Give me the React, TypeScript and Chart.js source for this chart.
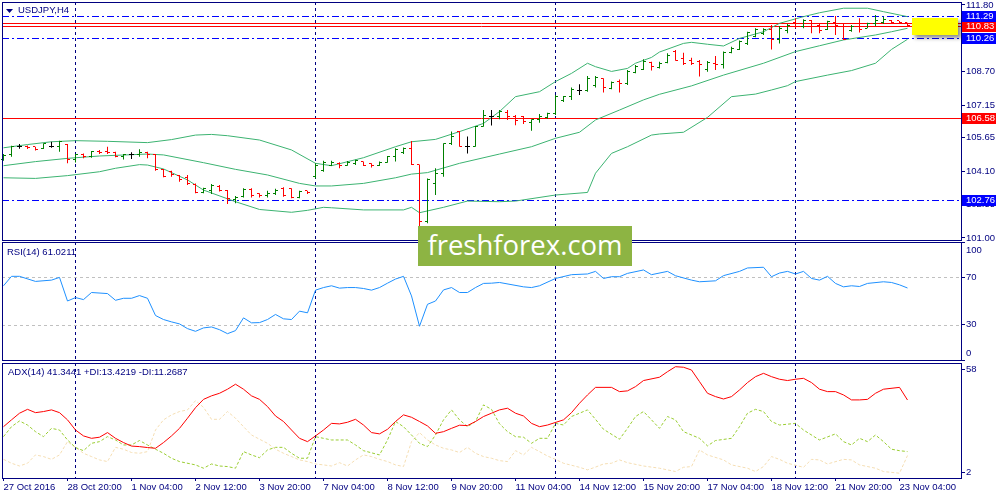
import React, { useEffect, useRef } from "react";
import { Chart, registerables } from "chart.js";

Chart.register(...registerables);

// ---------------- data ----------------
const opens = [
  104.64, 104.85, 105.26, 105.26, 105.23, 105.16, 105.23, 105.23, 105.34, 104.64,
  104.85, 104.77, 105.03, 105.0, 104.97, 104.77, 104.85, 104.85, 104.95, 104.88,
  104.18, 104.07, 103.89, 103.81, 103.5, 103.1, 103.22, 103.38, 103.19, 102.76,
  102.91, 103.25, 103.04, 102.95, 103.07, 103.3, 103.3, 102.88, 103.18, 103.84,
  104.15, 104.38, 104.46, 104.38, 104.46, 104.54, 104.43, 104.35, 104.52, 104.77,
  104.95, 105.16, 104.41, 101.76, 103.53, 104.0, 105.36, 105.93, 105.26, 105.26,
  106.19, 106.65, 106.62, 106.81, 106.62, 106.62, 106.36, 106.47, 106.59, 106.78,
  107.37, 107.55, 107.83, 107.83, 108.05, 108.4, 107.94, 108.25, 108.17, 108.66,
  108.82, 109.14, 108.89, 109.13, 109.64, 109.33, 109.25, 109.17, 108.79, 109.07,
  109.02, 109.59, 109.74, 110.02, 110.36, 110.49, 110.67, 110.21, 110.64, 110.98,
  110.8, 111.07, 110.87, 110.67, 110.98, 110.8, 110.61, 110.92, 110.73, 110.92,
  110.98, 111.1, 111.06, 110.98,
];
const highs = [
  104.89, 105.28, 105.36, 105.29, 105.23, 105.39, 105.46, 105.51, 105.36, 104.89,
  104.92, 105.03, 105.08, 105.23, 105.0, 104.89, 104.97, 105.11, 105.0, 104.89,
  104.2, 104.12, 103.92, 103.92, 103.53, 103.33, 103.5, 103.45, 103.22, 102.95,
  103.3, 103.3, 103.07, 103.19, 103.28, 103.35, 103.3, 103.19, 103.19, 104.46,
  104.58, 104.58, 104.51, 104.57, 104.62, 104.54, 104.46, 104.55, 104.8, 105.16,
  105.19, 105.49, 104.41, 103.76, 104.23, 105.39, 105.93, 105.96, 105.7, 106.19,
  106.93, 106.93, 106.93, 106.93, 106.7, 106.65, 106.5, 106.75, 106.81, 107.63,
  107.58, 107.97, 108.12, 108.51, 108.51, 108.4, 108.25, 108.35, 108.79, 109.02,
  109.28, 109.17, 109.17, 109.56, 109.71, 109.59, 109.36, 109.25, 109.2, 109.44,
  109.64, 109.87, 110.15, 110.56, 110.72, 110.72, 110.87, 110.83, 110.92, 111.18,
  111.14, 111.1, 110.92, 111.07, 111.29, 110.95, 110.87, 111.18, 110.98, 111.34,
  111.26, 111.1, 111.06, 110.98,
];
const lows = [
  104.58, 104.77, 105.14, 105.12, 105.05, 105.12, 105.18, 105.0, 104.46, 104.5,
  104.69, 104.72, 104.89, 104.89, 104.74, 104.64, 104.66, 104.77, 104.69, 104.12,
  103.81, 103.84, 103.61, 103.46, 103.07, 103.07, 103.04, 103.15, 102.57, 102.61,
  102.88, 102.88, 102.88, 102.88, 102.99, 102.91, 102.84, 102.84, 103.04, 103.76,
  104.07, 104.34, 104.23, 104.35, 104.38, 104.34, 104.27, 104.34, 104.49, 104.54,
  104.89, 104.38, 101.2, 101.68, 102.99, 103.84, 105.31, 105.23, 104.92, 105.23,
  106.16, 106.21, 106.5, 106.47, 106.22, 106.28, 105.97, 106.34, 106.53, 106.7,
  107.3, 107.4, 107.63, 107.78, 107.98, 107.74, 107.89, 107.74, 108.09, 108.63,
  108.79, 108.76, 108.86, 109.1, 109.22, 109.02, 109.02, 108.48, 108.71, 108.79,
  108.86, 109.56, 109.71, 109.95, 110.3, 110.41, 109.74, 110.02, 110.49, 110.72,
  110.72, 110.49, 110.49, 110.64, 110.41, 110.18, 110.56, 110.53, 110.72, 110.83,
  110.92, 110.92, 110.92, 110.83,
];
const closes = [
  104.8, 105.23, 105.26, 105.2, 105.11, 105.36, 105.23, 105.46, 104.62, 104.85,
  104.77, 105.0, 104.97, 104.95, 104.77, 104.85, 104.85, 104.95, 104.89, 104.18,
  103.84, 103.92, 103.69, 103.53, 103.1, 103.28, 103.44, 103.22, 102.84, 102.88,
  103.25, 102.95, 102.95, 103.07, 103.22, 102.95, 102.88, 103.15, 103.1, 104.38,
  104.49, 104.49, 104.38, 104.51, 104.57, 104.38, 104.34, 104.52, 104.77, 105.08,
  105.16, 104.41, 101.76, 103.73, 104.0, 105.36, 105.7, 105.26, 105.26, 106.16,
  106.7, 106.65, 106.86, 106.62, 106.44, 106.39, 106.47, 106.65, 106.75, 107.55,
  107.55, 107.89, 107.83, 108.4, 108.45, 107.98, 108.2, 108.17, 108.71, 108.94,
  109.17, 108.94, 109.1, 109.48, 109.25, 109.1, 109.1, 109.02, 109.14, 109.02,
  109.59, 109.79, 110.1, 110.52, 110.67, 110.67, 110.21, 110.72, 110.87, 110.92,
  111.07, 110.8, 110.61, 111.03, 110.83, 110.21, 110.8, 110.67, 110.92, 111.1,
  111.14, 111.01, 110.98, 110.83,
];

const bbUpper: [number, number][] = [
  [0, 105.18], [3, 105.33], [6, 105.46], [9, 105.51], [13, 105.48], [18, 105.42], [21, 105.56],
  [24, 105.77], [26, 105.8], [28, 105.74], [32, 105.54], [36, 105.08], [39, 104.46], [41, 104.35],
  [45, 104.72], [49, 105.23], [51, 105.46], [54, 105.57], [57, 105.93], [60, 106.31], [62, 106.86],
  [64, 107.55], [67, 107.78], [69, 108.25], [71, 108.63], [73, 109.1], [74, 108.94], [76, 108.72],
  [78, 108.86], [79, 109.1], [81, 109.37], [82, 109.62], [85, 110.02], [86, 110.07], [88, 109.98],
  [90, 109.9], [92, 110.25], [95, 110.56], [97, 110.95], [100, 111.26], [102, 111.44], [105, 111.65],
  [108, 111.65], [110, 111.49], [113, 111.26],
];
const bbMiddle: [number, number][] = [
  [0, 104.35], [4, 104.54], [8, 104.69], [12, 104.8], [18, 104.89], [20, 104.85], [25, 104.49],
  [29, 104.18], [33, 103.92], [37, 103.53], [39, 103.41], [41, 103.41], [45, 103.53], [49, 103.79],
  [51, 103.96], [53, 104.03], [57, 104.46], [62, 104.89], [66, 105.23], [69, 105.62], [72, 105.9],
  [74, 106.47], [77, 106.93], [80, 107.4], [82, 107.66], [86, 108.05], [90, 108.55], [95, 109.1],
  [99, 109.64], [102, 109.91], [105, 110.18], [109, 110.41], [111, 110.56], [113, 110.72],
];
const bbLower: [number, number][] = [
  [0, 103.79], [4, 103.76], [8, 103.89], [12, 104.07], [14, 104.23], [17, 104.4], [18, 104.38],
  [20, 104.2], [23, 103.69], [25, 103.22], [29, 102.68], [32, 102.32], [36, 102.19], [38, 102.28],
  [40, 102.42], [41, 102.4], [45, 102.3], [50, 102.3], [51, 102.42], [52, 102.17], [55, 102.42],
  [58, 102.71], [62, 102.68], [64, 102.71], [69, 102.99], [73, 103.11], [74, 104.0], [76, 104.92],
  [78, 105.23], [81, 105.77], [82, 105.82], [85, 105.9], [88, 106.59], [91, 107.55], [94, 107.67],
  [96, 107.86], [98, 108.06], [99, 108.25], [103, 108.55], [106, 108.76], [109, 109.1], [111, 109.74],
  [113, 110.21],
];

const rsiPoints: [number, number][] = [
  [0, 62.9], [1, 70.9], [2, 70.9], [4, 66.6], [6, 67.7], [7, 70.0], [8, 50.0], [9, 52.9], [10, 51.2],
  [11, 57.2], [13, 56.3], [14, 50.6], [15, 52.3], [16, 52.3], [17, 54.6], [18, 52.3], [19, 37.7],
  [20, 34.3], [21, 32.3], [22, 30.6], [23, 26.6], [24, 24.3], [25, 27.2], [26, 28.0], [27, 25.7],
  [28, 22.3], [29, 24.9], [30, 35.7], [31, 31.5], [32, 31.7], [33, 34.3], [34, 38.6], [35, 34.9],
  [36, 34.3], [37, 41.4], [38, 40.0], [39, 59.2], [40, 61.4], [41, 62.9], [42, 60.9], [43, 61.4],
  [44, 61.4], [45, 60.6], [46, 59.2], [47, 61.4], [48, 65.1], [49, 68.6], [50, 70.9], [51, 54.3],
  [52, 28.6], [53, 47.2], [54, 50.0], [55, 59.4], [56, 61.4], [57, 57.2], [58, 57.2], [59, 61.4],
  [60, 64.9], [61, 65.1], [62, 65.7], [65, 62.0], [66, 61.4], [67, 62.9], [69, 69.1], [71, 72.3],
  [73, 72.9], [74, 75.1], [75, 69.1], [76, 70.6], [77, 70.6], [78, 73.4], [80, 76.3], [81, 72.3],
  [83, 75.1], [84, 71.4], [86, 67.7], [87, 66.3], [89, 67.1], [90, 71.5], [92, 75.1], [93, 78.0],
  [95, 78.6], [96, 70.6], [97, 73.7], [98, 75.1], [99, 72.9], [100, 75.1], [101, 69.1], [102, 67.7],
  [103, 70.9], [104, 64.9], [105, 62.0], [106, 62.9], [107, 62.3], [108, 64.9], [110, 66.3],
  [111, 65.7], [112, 63.7], [113, 61.02],
];

const adxPoints: [number, number][] = [
  [0, 26.9], [1, 30.6], [2, 34.2], [3, 36.3], [4, 34.5], [5, 35.1], [6, 36.0], [7, 34.5], [8, 30.6],
  [9, 25.1], [10, 21.9], [11, 20.6], [12, 21.2], [13, 23.7], [14, 20.6], [15, 18.3], [16, 16.4],
  [17, 16.1], [18, 15.6], [19, 15.2], [20, 18.3], [21, 21.9], [22, 26.0], [23, 31.5], [24, 37.2],
  [25, 41.7], [26, 43.6], [27, 45.0], [28, 47.2], [29, 49.9], [30, 47.2], [31, 43.6], [32, 41.7],
  [33, 37.8], [34, 32.7], [35, 29.7], [36, 25.1], [37, 20.6], [38, 18.8], [39, 21.9], [40, 25.1],
  [41, 28.7], [42, 28.4], [43, 29.3], [44, 30.9], [45, 27.8], [46, 23.7], [47, 23.0], [48, 25.5],
  [49, 29.7], [50, 33.3], [51, 32.0], [52, 29.7], [53, 27.3], [54, 23.3], [55, 24.2], [56, 26.0],
  [57, 27.7], [58, 27.5], [59, 29.7], [60, 32.4], [61, 34.2], [62, 36.0], [63, 36.9], [64, 34.2],
  [65, 32.7], [66, 28.7], [67, 26.9], [68, 27.8], [70, 30.6], [71, 34.5], [72, 39.6], [73, 44.1],
  [74, 48.2], [76, 48.2], [77, 45.9], [78, 46.3], [79, 48.6], [80, 51.9], [82, 53.7], [83, 56.7],
  [84, 59.4], [85, 59.1], [86, 57.6], [87, 51.3], [88, 45.0], [89, 43.2], [90, 41.9], [91, 43.2],
  [92, 46.8], [93, 50.8], [94, 54.0], [95, 55.8], [96, 54.0], [97, 52.6], [98, 51.9], [99, 52.6],
  [100, 53.1], [101, 50.8], [102, 47.2], [103, 45.9], [104, 45.9], [105, 44.1], [106, 41.4],
  [107, 41.4], [108, 41.7], [109, 45.0], [110, 47.2], [112, 48.2], [113, 41.34],
];
const plusDiPoints: [number, number][] = [
  [0, 21.5], [1, 26.9], [2, 30.0], [3, 27.8], [4, 24.2], [5, 21.5], [6, 26.0], [7, 25.1], [8, 19.7],
  [9, 15.6], [10, 13.9], [11, 17.9], [12, 18.8], [13, 21.5], [14, 19.7], [15, 17.0], [16, 17.0],
  [17, 19.4], [18, 17.0], [19, 14.7], [20, 12.5], [21, 9.8], [22, 8.0], [24, 6.2], [25, 4.4],
  [26, 6.7], [27, 5.6], [28, 5.3], [29, 4.4], [30, 13.4], [31, 11.6], [32, 10.1], [33, 14.3],
  [34, 15.7], [35, 15.7], [36, 12.5], [37, 9.8], [38, 9.8], [39, 21.5], [40, 20.6], [41, 19.7],
  [43, 19.7], [44, 17.0], [45, 13.9], [47, 11.6], [48, 19.7], [49, 29.7], [50, 26.9], [51, 22.4],
  [52, 17.9], [53, 16.1], [54, 22.4], [55, 30.6], [56, 36.0], [57, 30.6], [58, 26.9], [59, 29.7],
  [60, 38.7], [61, 36.3], [62, 28.5], [63, 24.2], [64, 21.5], [65, 21.2], [66, 17.9], [67, 20.6],
  [68, 20.6], [69, 28.7], [70, 27.8], [71, 32.4], [72, 34.2], [73, 36.0], [74, 30.9], [75, 25.5],
  [77, 20.1], [78, 26.0], [79, 32.4], [80, 35.1], [81, 30.6], [82, 26.0], [83, 32.4], [84, 30.6],
  [85, 24.2], [87, 20.6], [88, 16.5], [89, 19.4], [91, 20.6], [92, 26.9], [93, 34.2], [94, 36.3],
  [95, 35.1], [96, 29.7], [97, 27.8], [99, 28.7], [100, 25.1], [102, 19.7], [104, 23.0], [105, 18.8],
  [106, 17.0], [107, 20.6], [108, 18.8], [109, 22.4], [110, 18.8], [111, 14.7], [112, 13.9],
  [113, 13.42],
];
const minusDiPoints: [number, number][] = [
  [0, 9.2], [1, 7.1], [2, 5.6], [3, 7.1], [4, 11.6], [5, 10.7], [6, 9.2], [7, 11.6], [8, 18.8],
  [9, 15.7], [10, 12.5], [11, 10.7], [12, 8.9], [13, 8.0], [14, 15.7], [15, 14.7], [16, 12.9],
  [17, 12.5], [18, 13.4], [19, 25.1], [20, 30.6], [21, 33.3], [22, 35.1], [23, 36.0], [24, 41.0],
  [25, 37.4], [26, 30.9], [27, 30.9], [28, 35.1], [29, 31.5], [30, 26.9], [31, 22.4], [32, 20.1],
  [33, 17.9], [34, 14.7], [35, 12.5], [36, 10.7], [37, 8.9], [38, 8.0], [39, 6.7], [40, 6.2],
  [41, 5.6], [42, 7.4], [43, 5.6], [44, 8.9], [45, 11.6], [46, 10.7], [47, 9.2], [48, 8.0],
  [49, 6.2], [50, 5.3], [51, 18.8], [52, 23.7], [53, 19.7], [54, 17.0], [55, 15.2], [56, 14.3],
  [57, 12.9], [58, 15.7], [59, 12.5], [60, 10.7], [61, 9.8], [62, 8.5], [63, 8.0], [64, 13.9],
  [65, 11.6], [66, 15.7], [67, 13.4], [68, 11.0], [69, 9.2], [70, 7.1], [72, 4.9], [73, 3.5],
  [74, 5.0], [75, 6.7], [76, 7.1], [77, 8.9], [78, 7.4], [80, 5.6], [82, 4.4], [84, 2.6], [85, 4.9],
  [86, 5.3], [87, 14.3], [88, 11.6], [90, 8.9], [91, 6.2], [93, 4.4], [94, 2.6], [95, 5.3],
  [96, 10.7], [97, 9.2], [98, 7.1], [100, 4.9], [101, 9.2], [102, 8.9], [103, 6.7], [105, 9.2],
  [106, 8.9], [107, 6.2], [109, 4.4], [110, 2.6], [112, 1.7], [113, 11.27],
];

const xTickIdx = [0, 8, 16, 24, 32, 40, 48, 56, 64, 72, 80, 88, 96, 104, 112];
const xTickLabels = [
  "27 Oct 2016", "28 Oct 20:00", "1 Nov 04:00", "2 Nov 12:00", "3 Nov 20:00", "7 Nov 04:00",
  "8 Nov 12:00", "9 Nov 20:00", "11 Nov 04:00", "14 Nov 12:00", "15 Nov 20:00", "17 Nov 04:00",
  "18 Nov 12:00", "21 Nov 20:00", "23 Nov 04:00",
];
const weekStarts = [9, 39, 69, 99];
const priceTicks = [111.8, 110.25, 108.7, 107.15, 105.65, 104.1, 102.55, 101.0];
const blueLevels = [111.29, 110.26, 102.76];
const redLevels = [110.95, 110.83, 106.58];
const rsiLevels = [70, 30];
const rsiTicks = [100, 70, 30, 0];
const adxTicks = [58, 2];
const yellowZone = { fromIdx: 113.5, toIdx: 119.3, top: 111.18, bottom: 110.41 };

const mainTitle = "USDJPY,H4";
const rsiTitle = "RSI(14) 61.0211";
const adxTitle = "ADX(14) 41.3441 +DI:13.4219 -DI:11.2687";

// ---------------- layout / style ----------------
const X_MIN = -0.1875;
const X_MAX = 119.6875;
const PRICE_MIN = 100.905;
const PRICE_MAX = 111.939;
const NAVY = "#000080";
const BLUE = "#0000ff";
const RED = "#ff0000";
const FONT = "'Liberation Sans', Arial, sans-serif";
const FS = 9.5;

const barColor = (i: number) =>
  closes[i] > opens[i] ? "#008000" : closes[i] < opens[i] ? RED : "#000000";

const toXY = (pts: [number, number][]) => pts.map(([x, y]) => ({ x, y }));

function drawFrame(chart: any) {
  const { ctx, chartArea: a } = chart;
  ctx.save();
  ctx.strokeStyle = NAVY;
  ctx.lineWidth = 1;
  ctx.setLineDash([]);
  ctx.beginPath();
  ctx.moveTo(a.left + 0.5, a.top);
  ctx.lineTo(a.left + 0.5, a.bottom + 1);
  ctx.moveTo(a.right + 0.5, a.top);
  ctx.lineTo(a.right + 0.5, a.bottom + 1);
  ctx.moveTo(a.left, a.top + 0.5);
  ctx.lineTo(a.right + 1, a.top + 0.5);
  ctx.moveTo(a.left, a.bottom + 0.5);
  ctx.lineTo(a.right + 1, a.bottom + 0.5);
  ctx.stroke();
  ctx.restore();
}

function drawWeekLines(chart: any) {
  const { ctx, chartArea: a, scales } = chart;
  ctx.save();
  ctx.strokeStyle = NAVY;
  ctx.lineWidth = 1;
  ctx.setLineDash([3, 3]);
  ctx.beginPath();
  weekStarts.forEach((w) => {
    const x = Math.floor(scales.x.getPixelForValue(w)) + 0.5;
    ctx.moveTo(x, a.top);
    ctx.lineTo(x, a.bottom + 1);
  });
  ctx.stroke();
  ctx.restore();
}

function drawTitle(chart: any, text: string, x: number, y: number, triangle = false) {
  const { ctx } = chart;
  ctx.save();
  ctx.fillStyle = NAVY;
  if (triangle) {
    ctx.beginPath();
    ctx.moveTo(6, 9);
    ctx.lineTo(13, 9);
    ctx.lineTo(9.5, 13);
    ctx.closePath();
    ctx.fill();
  }
  ctx.font = `${FS}px ${FONT}`;
  ctx.textBaseline = "middle";
  ctx.textAlign = "left";
  ctx.fillText(text, x, y);
  ctx.restore();
}

const mainPlugin = {
  id: "mainDecor",
  beforeDatasetsDraw(chart: any) {
    const { ctx, chartArea: a, scales } = chart;
    drawWeekLines(chart);
    ctx.save();
    ctx.lineWidth = 1;
    ctx.strokeStyle = BLUE;
    ctx.setLineDash([7, 3, 2, 3]);
    blueLevels.forEach((p) => {
      const y = Math.round(scales.y.getPixelForValue(p)) + 0.5;
      ctx.beginPath();
      ctx.moveTo(a.left, y);
      ctx.lineTo(a.right, y);
      ctx.stroke();
    });
    ctx.strokeStyle = RED;
    ctx.setLineDash([]);
    redLevels.forEach((p) => {
      const y = Math.round(scales.y.getPixelForValue(p)) + 0.5;
      ctx.beginPath();
      ctx.moveTo(a.left, y);
      ctx.lineTo(a.right, y);
      ctx.stroke();
    });
    const x0 = scales.x.getPixelForValue(yellowZone.fromIdx);
    const x1 = scales.x.getPixelForValue(yellowZone.toIdx);
    const y0 = scales.y.getPixelForValue(yellowZone.top);
    const y1 = scales.y.getPixelForValue(yellowZone.bottom);
    ctx.shadowColor = "rgba(0,0,0,0.45)";
    ctx.shadowBlur = 4;
    ctx.shadowOffsetX = 3;
    ctx.shadowOffsetY = 3;
    ctx.fillStyle = "#ffff00";
    ctx.fillRect(Math.round(x0), Math.round(y0), Math.round(x1 - x0), Math.round(y1 - y0));
    ctx.restore();
  },
  afterDatasetsDraw(chart: any) {
    const { ctx, scales } = chart;
    ctx.save();
    for (let i = 0; i < closes.length; i++) {
      ctx.fillStyle = barColor(i);
      const px = Math.floor(scales.x.getPixelForValue(i));
      ctx.fillRect(px - 2, Math.floor(scales.y.getPixelForValue(opens[i])), 2, 1);
      ctx.fillRect(px + 1, Math.floor(scales.y.getPixelForValue(closes[i])), 2, 1);
    }
    ctx.restore();
  },
  afterDraw(chart: any) {
    const { ctx, chartArea: a, scales } = chart;
    drawFrame(chart);
    drawTitle(chart, mainTitle, 18, 10.5, true);
    const box = (p: number, color: string) => {
      const y = Math.round(scales.y.getPixelForValue(p));
      ctx.fillStyle = color;
      ctx.fillRect(a.right + 1, y - 5, 34, 11);
      ctx.fillStyle = "#ffffff";
      ctx.font = `${FS}px ${FONT}`;
      ctx.textBaseline = "middle";
      ctx.textAlign = "left";
      ctx.fillText(p.toFixed(2), a.right + 5, y + 0.5);
    };
    ctx.save();
    redLevels.forEach((p) => box(p, RED));
    blueLevels.forEach((p) => box(p, BLUE));
    ctx.restore();
  },
};

const rsiPlugin = {
  id: "rsiDecor",
  beforeDatasetsDraw(chart: any) {
    const { ctx, chartArea: a, scales } = chart;
    drawWeekLines(chart);
    ctx.save();
    ctx.strokeStyle = "#c0c0c0";
    ctx.lineWidth = 1;
    ctx.setLineDash([3, 3]);
    rsiLevels.forEach((v) => {
      const y = Math.round(scales.y.getPixelForValue(v)) + 0.5;
      ctx.beginPath();
      ctx.moveTo(a.left, y);
      ctx.lineTo(a.right, y);
      ctx.stroke();
    });
    ctx.restore();
  },
  afterDraw(chart: any) {
    const { ctx, chartArea: a, scales } = chart;
    drawFrame(chart);
    drawTitle(chart, rsiTitle, 7, 10);
    ctx.save();
    ctx.fillStyle = NAVY;
    ctx.font = `${FS}px ${FONT}`;
    ctx.textBaseline = "middle";
    ctx.textAlign = "left";
    rsiTicks.forEach((v) => {
      const p = scales.y.getPixelForValue(v);
      const y = Math.min(a.bottom - 7, Math.max(a.top + 8, p));
      ctx.fillText(String(v), a.right + 5, y);
    });
    ctx.restore();
  },
};

const adxPlugin = {
  id: "adxDecor",
  beforeDatasetsDraw(chart: any) {
    drawWeekLines(chart);
  },
  afterDraw(chart: any) {
    drawFrame(chart);
    drawTitle(chart, adxTitle, 8, 11);
  },
};

const baseOptions = (padding: any) => ({
  responsive: false,
  animation: false as const,
  events: [] as any[],
  layout: { padding },
  plugins: { legend: { display: false }, tooltip: { enabled: false } },
});

const hiddenX = {
  type: "linear",
  min: X_MIN,
  max: X_MAX,
  offset: false,
  bounds: "data",
  grid: { offset: false },
  display: false,
};

const rightY = (min: number, max: number, ticks: number[], showLabels: boolean, fmt?: (v: number) => string) => ({
  type: "linear",
  position: "right",
  min,
  max,
  bounds: "data",
  afterBuildTicks: (s: any) => {
    s.ticks = ticks.map((v) => ({ value: v }));
  },
  afterFit: (s: any) => {
    s.width = 39;
    s.paddingTop = 0;
    s.paddingBottom = 0;
  },
  grid: { drawOnChartArea: false, drawTicks: true, tickLength: 4, color: NAVY },
  border: { display: false },
  ticks: {
    display: showLabels,
    autoSkip: false,
    padding: 1,
    color: NAVY,
    font: { family: FONT, size: FS },
    callback: (v: any) => (fmt ? fmt(Number(v)) : String(v)),
  },
});

export default function App() {
  const mainRef = useRef<HTMLCanvasElement>(null);
  const rsiRef = useRef<HTMLCanvasElement>(null);
  const adxRef = useRef<HTMLCanvasElement>(null);

  useEffect(() => {
    const lineDs = (pts: [number, number][], color: string, dash: number[] = []) => ({
      type: "line",
      data: toXY(pts),
      borderColor: color,
      borderWidth: 1,
      borderDash: dash,
      pointRadius: 0,
      tension: 0,
      fill: false,
    });

    const main = new Chart(mainRef.current as HTMLCanvasElement, {
      type: "line",
      data: {
        datasets: [
          {
            type: "bar",
            data: closes.map((_, i) => ({ x: i, y: [lows[i], highs[i]] })),
            backgroundColor: closes.map((_, i) => barColor(i)),
            barThickness: 1,
            inflateAmount: 0,
            borderWidth: 0,
          } as any,
          lineDs(bbUpper, "#3cb371"),
          lineDs(bbMiddle, "#3cb371"),
          lineDs(bbLower, "#3cb371"),
        ],
      },
      options: {
        ...baseOptions({ left: 2, top: 2, bottom: 2, right: 0 }),
        scales: {
          x: hiddenX,
          y: rightY(PRICE_MIN, PRICE_MAX, priceTicks, true, (v) => v.toFixed(2)),
        },
      } as any,
      plugins: [mainPlugin],
    } as any);

    const rsi = new Chart(rsiRef.current as HTMLCanvasElement, {
      type: "line",
      data: { datasets: [lineDs(rsiPoints, "#1e90ff")] as any },
      options: {
        ...baseOptions({ left: 2, top: 0, bottom: 1, right: 0 }),
        scales: { x: hiddenX, y: rightY(0, 100, rsiTicks, false) },
      } as any,
      plugins: [rsiPlugin],
    } as any);

    const adx = new Chart(adxRef.current as HTMLCanvasElement, {
      type: "line",
      data: {
        datasets: [
          lineDs(adxPoints, RED),
          lineDs(plusDiPoints, "#9acd32", [3, 2]),
          lineDs(minusDiPoints, "#f5deb3", [3, 2]),
        ] as any,
      },
      options: {
        ...baseOptions({ left: 2, top: 2, bottom: 0, right: 0 }),
        scales: {
          x: {
            type: "linear",
            min: X_MIN,
            max: X_MAX,
            offset: false,
            bounds: "data",
            position: "bottom",
            afterBuildTicks: (s: any) => {
              s.ticks = xTickIdx.map((v) => ({ value: v }));
            },
            afterFit: (s: any) => {
              s.height = 22;
              s.paddingLeft = 0;
              s.paddingRight = 0;
            },
            grid: { drawOnChartArea: false, drawTicks: true, tickLength: 3, color: NAVY, offset: false },
            border: { display: false },
            ticks: {
              align: "start",
              autoSkip: false,
              maxRotation: 0,
              minRotation: 0,
              padding: 1,
              color: NAVY,
              font: { family: FONT, size: FS },
              callback: (v: any) => {
                const k = xTickIdx.indexOf(Number(v));
                return k >= 0 ? xTickLabels[k] : "";
              },
            },
          },
          y: rightY(-0.9, 61.4, adxTicks, true),
        },
      } as any,
      plugins: [adxPlugin],
    } as any);

    return () => {
      main.destroy();
      rsi.destroy();
      adx.destroy();
    };
  }, []);

  return (
    <div
      style={{
        position: "absolute",
        left: 0,
        top: 0,
        width: 1000,
        height: 500,
        background: "#ffffff",
        overflow: "hidden",
      }}
    >
      <canvas
        ref={mainRef}
        width={1000}
        height={242}
        style={{ position: "absolute", left: 0, top: 0, width: 1000, height: 242 }}
      />
      <canvas
        ref={rsiRef}
        width={1000}
        height={119}
        style={{ position: "absolute", left: 0, top: 242, width: 1000, height: 119 }}
      />
      <canvas
        ref={adxRef}
        width={1000}
        height={139}
        style={{ position: "absolute", left: 0, top: 361, width: 1000, height: 139 }}
      />
      <div
        style={{
          position: "absolute",
          left: 418,
          top: 226,
          width: 214,
          height: 40,
          background: "#8db443",
          color: "#ffffff",
          fontFamily: "'Open Sans', sans-serif",
          fontSize: 27.5,
          lineHeight: "37px",
          textAlign: "center",
          zIndex: 2,
        }}
      >
        freshforex.com
      </div>
    </div>
  );
}
